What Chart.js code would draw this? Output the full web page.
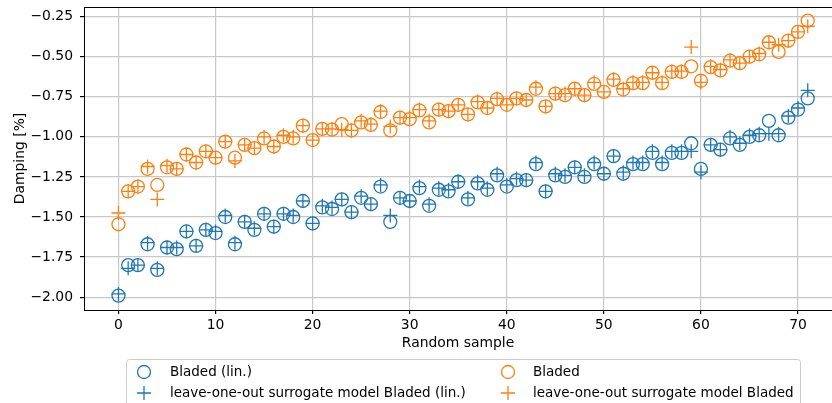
<!DOCTYPE html>
<html>
<head>
<meta charset="utf-8">
<script src="https://cdn.jsdelivr.net/npm/chart.js@4"></script>
<style>
  html, body { margin: 0; padding: 0; background: #fff; overflow: hidden; }
  #wrap { width: 832px; height: 403px; position: relative; }
  canvas { display: block; }
</style>
</head>
<body>
<div id="wrap"><canvas id="myChart"></canvas></div>
<script>
const samples = [];
for (let i = 0; i < 72; i++) samples.push(i);

const bladedLin = [
  -1.99, -1.80, -1.80, -1.67, -1.83, -1.69, -1.70, -1.59, -1.68, -1.58,
  -1.60, -1.50, -1.67, -1.53, -1.58, -1.48, -1.56, -1.48, -1.50, -1.40,
  -1.54, -1.44, -1.45, -1.39, -1.47, -1.38, -1.42, -1.31, -1.53, -1.38,
  -1.40, -1.32, -1.43, -1.33, -1.34, -1.28, -1.39, -1.29, -1.33, -1.24,
  -1.31, -1.27, -1.27, -1.17, -1.34, -1.24, -1.25, -1.19, -1.25, -1.17,
  -1.23, -1.12, -1.23, -1.17, -1.17, -1.10, -1.17, -1.10, -1.10, -1.04,
  -1.20, -1.05, -1.08, -1.01, -1.05, -1.00, -0.99, -0.90, -0.99, -0.88,
  -0.83, -0.76
];
const surrogateLin = [
  -1.98, -1.82, -1.80, -1.66, -1.82, -1.69, -1.69, -1.59, -1.68, -1.58,
  -1.59, -1.49, -1.66, -1.53, -1.57, -1.48, -1.56, -1.48, -1.49, -1.40,
  -1.54, -1.43, -1.44, -1.39, -1.47, -1.37, -1.42, -1.30, -1.49, -1.38,
  -1.40, -1.31, -1.42, -1.32, -1.33, -1.28, -1.38, -1.28, -1.32, -1.23,
  -1.30, -1.26, -1.27, -1.16, -1.34, -1.23, -1.24, -1.19, -1.24, -1.16,
  -1.23, -1.12, -1.22, -1.16, -1.16, -1.09, -1.16, -1.09, -1.09, -1.09,
  -1.22, -1.05, -1.08, -1.00, -1.04, -0.99, -0.98, -0.98, -0.98, -0.87,
  -0.82, -0.71
];
const bladed = [
  -1.545, -1.34, -1.31, -1.20, -1.30, -1.19, -1.20, -1.11, -1.16, -1.09,
  -1.13, -1.03, -1.13, -1.05, -1.07, -1.01, -1.06, -1.00, -1.01, -0.93,
  -1.02, -0.95, -0.955, -0.92, -0.96, -0.91, -0.925, -0.845, -0.96, -0.88,
  -0.89, -0.835, -0.91, -0.83, -0.84, -0.80, -0.86, -0.785, -0.82, -0.765,
  -0.80, -0.76, -0.77, -0.70, -0.81, -0.73, -0.74, -0.70, -0.74, -0.67,
  -0.72, -0.645, -0.705, -0.665, -0.665, -0.60, -0.665, -0.595, -0.595, -0.56,
  -0.65, -0.565, -0.585, -0.525, -0.54, -0.50, -0.485, -0.41, -0.47, -0.40,
  -0.345, -0.275
];
const surrogate = [
  -1.475, -1.34, -1.31, -1.185, -1.39, -1.18, -1.20, -1.11, -1.16, -1.09,
  -1.13, -1.03, -1.15, -1.05, -1.07, -1.00, -1.06, -0.99, -1.00, -0.93,
  -1.02, -0.95, -0.95, -0.955, -0.96, -0.90, -0.92, -0.84, -0.935, -0.88,
  -0.88, -0.83, -0.90, -0.83, -0.84, -0.80, -0.86, -0.78, -0.82, -0.76,
  -0.80, -0.76, -0.77, -0.69, -0.81, -0.73, -0.73, -0.70, -0.74, -0.66,
  -0.72, -0.64, -0.70, -0.66, -0.66, -0.60, -0.66, -0.59, -0.59, -0.44,
  -0.66, -0.56, -0.58, -0.52, -0.54, -0.50, -0.48, -0.41, -0.425, -0.40,
  -0.345, -0.31
];

const xTicks = [0, 10, 20, 30, 40, 50, 60, 70];
const yTicks = [-2.00, -1.75, -1.50, -1.25, -1.00, -0.75, -0.50, -0.25];
const legendLabels = [
  'Bladed (lin.)',
  'leave-one-out surrogate model Bladed (lin.)',
  'Bladed',
  'leave-one-out surrogate model Bladed'
];

const blue = '#1f77b4';
const orange = '#ff7f0e';
const font = "'DejaVu Sans', sans-serif";
const fontSize = 13.9;

function points(ys) {
  return samples.map((x, i) => ({ x: x, y: ys[i] }));
}

function drawMarker(c, style, x, y, color) {
  c.save();
  c.strokeStyle = color;
  c.lineWidth = 1.3;
  c.beginPath();
  if (style === 'circle') {
    c.arc(x, y, 6.5, 0, Math.PI * 2);
  } else {
    c.moveTo(x - 7, y); c.lineTo(x + 7, y);
    c.moveTo(x, y - 7); c.lineTo(x, y + 7);
  }
  c.stroke();
  c.restore();
}

const framePlugin = {
  id: 'frame',
  afterDraw(chart) {
    const c = chart.ctx;
    const a = chart.chartArea;
    c.save();
    c.strokeStyle = 'black';
    c.lineWidth = 1;
    c.beginPath();
    c.moveTo(a.left, a.top + 0.5);
    c.lineTo(a.right, a.top + 0.5);
    c.stroke();

    // legend box
    const bx = 126, by = 359, bw = 674, bh = 60;
    c.fillStyle = 'rgba(255,255,255,0.8)';
    c.strokeStyle = '#cccccc';
    c.beginPath();
    c.roundRect(bx + 0.5, by + 0.5, bw, bh, 3);
    c.fill();
    c.stroke();

    const entries = [
      { style: 'circle', color: blue, mx: 144, tx: 170, y: 372 },
      { style: 'cross', color: blue, mx: 144, tx: 170, y: 393 },
      { style: 'circle', color: orange, mx: 508, tx: 533, y: 372 },
      { style: 'cross', color: orange, mx: 508, tx: 533, y: 393 }
    ];
    c.font = '13.5px ' + font;
    c.fillStyle = '#000';
    c.textBaseline = 'middle';
    entries.forEach((e, i) => {
      drawMarker(c, e.style, e.mx, e.y, e.color);
      c.fillText(legendLabels[i], e.tx, e.y);
    });
    c.restore();
  }
};

new Chart(document.getElementById('myChart'), {
  type: 'scatter',
  data: {
    datasets: [
      {
        label: legendLabels[0],
        data: points(bladedLin),
        pointStyle: 'circle',
        pointRadius: 6.5,
        pointHoverRadius: 6.5,
        borderColor: blue,
        backgroundColor: 'rgba(0,0,0,0)',
        pointBorderWidth: 1.3,
        order: 4
      },
      {
        label: legendLabels[1],
        data: points(surrogateLin),
        pointStyle: 'cross',
        pointRadius: 7,
        pointHoverRadius: 7,
        borderColor: blue,
        backgroundColor: blue,
        pointBorderWidth: 1.3,
        order: 3
      },
      {
        label: legendLabels[2],
        data: points(bladed),
        pointStyle: 'circle',
        pointRadius: 6.5,
        pointHoverRadius: 6.5,
        borderColor: orange,
        backgroundColor: 'rgba(0,0,0,0)',
        pointBorderWidth: 1.3,
        order: 2
      },
      {
        label: legendLabels[3],
        data: points(surrogate),
        pointStyle: 'cross',
        pointRadius: 7,
        pointHoverRadius: 7,
        borderColor: orange,
        backgroundColor: orange,
        pointBorderWidth: 1.3,
        order: 1
      }
    ]
  },
  options: {
    responsive: true,
    maintainAspectRatio: false,
    animation: false,
    layout: {
      autoPadding: false,
      padding: { left: 0, right: 0, top: 7, bottom: 51 }
    },
    plugins: {
      legend: { display: false },
      tooltip: { enabled: false }
    },
    scales: {
      x: {
        type: 'linear',
        min: -3.55,
        max: 73.5,
        afterBuildTicks: scale => {
          scale.ticks = xTicks.map(v => ({ value: v }));
        },
        afterFit: scale => {
          scale.height = 42;
          scale.paddingLeft = 0;
          scale.paddingRight = 0;
        },
        grid: {
          color: '#c8c8c8',
          lineWidth: 1.2,
          tickColor: '#000',
          tickLength: 4
        },
        border: { color: '#000', width: 1 },
        ticks: {
          color: '#000',
          padding: 3,
          font: { family: font, size: fontSize }
        },
        title: {
          display: true,
          text: 'Random sample',
          color: '#000',
          padding: { top: 2, bottom: 0 },
          font: { family: font, size: fontSize }
        }
      },
      y: {
        type: 'linear',
        min: -2.08,
        max: -0.19,
        afterBuildTicks: scale => {
          scale.ticks = yTicks.map(v => ({ value: v }));
        },
        afterFit: scale => {
          scale.width = 84;
          scale.paddingTop = 0;
          scale.paddingBottom = 0;
        },
        grid: {
          color: '#c8c8c8',
          lineWidth: 1.2,
          tickColor: '#000',
          tickLength: 4
        },
        border: { color: '#000', width: 1 },
        ticks: {
          color: '#000',
          padding: 7,
          font: { family: font, size: fontSize },
          callback: value => value.toFixed(2).replace('-', '\u2212')
        },
        title: {
          display: true,
          text: 'Damping [%]',
          color: '#000',
          padding: { top: 12, bottom: 0 },
          font: { family: font, size: fontSize }
        }
      }
    }
  },
  plugins: [framePlugin]
});
</script>
</body>
</html>
